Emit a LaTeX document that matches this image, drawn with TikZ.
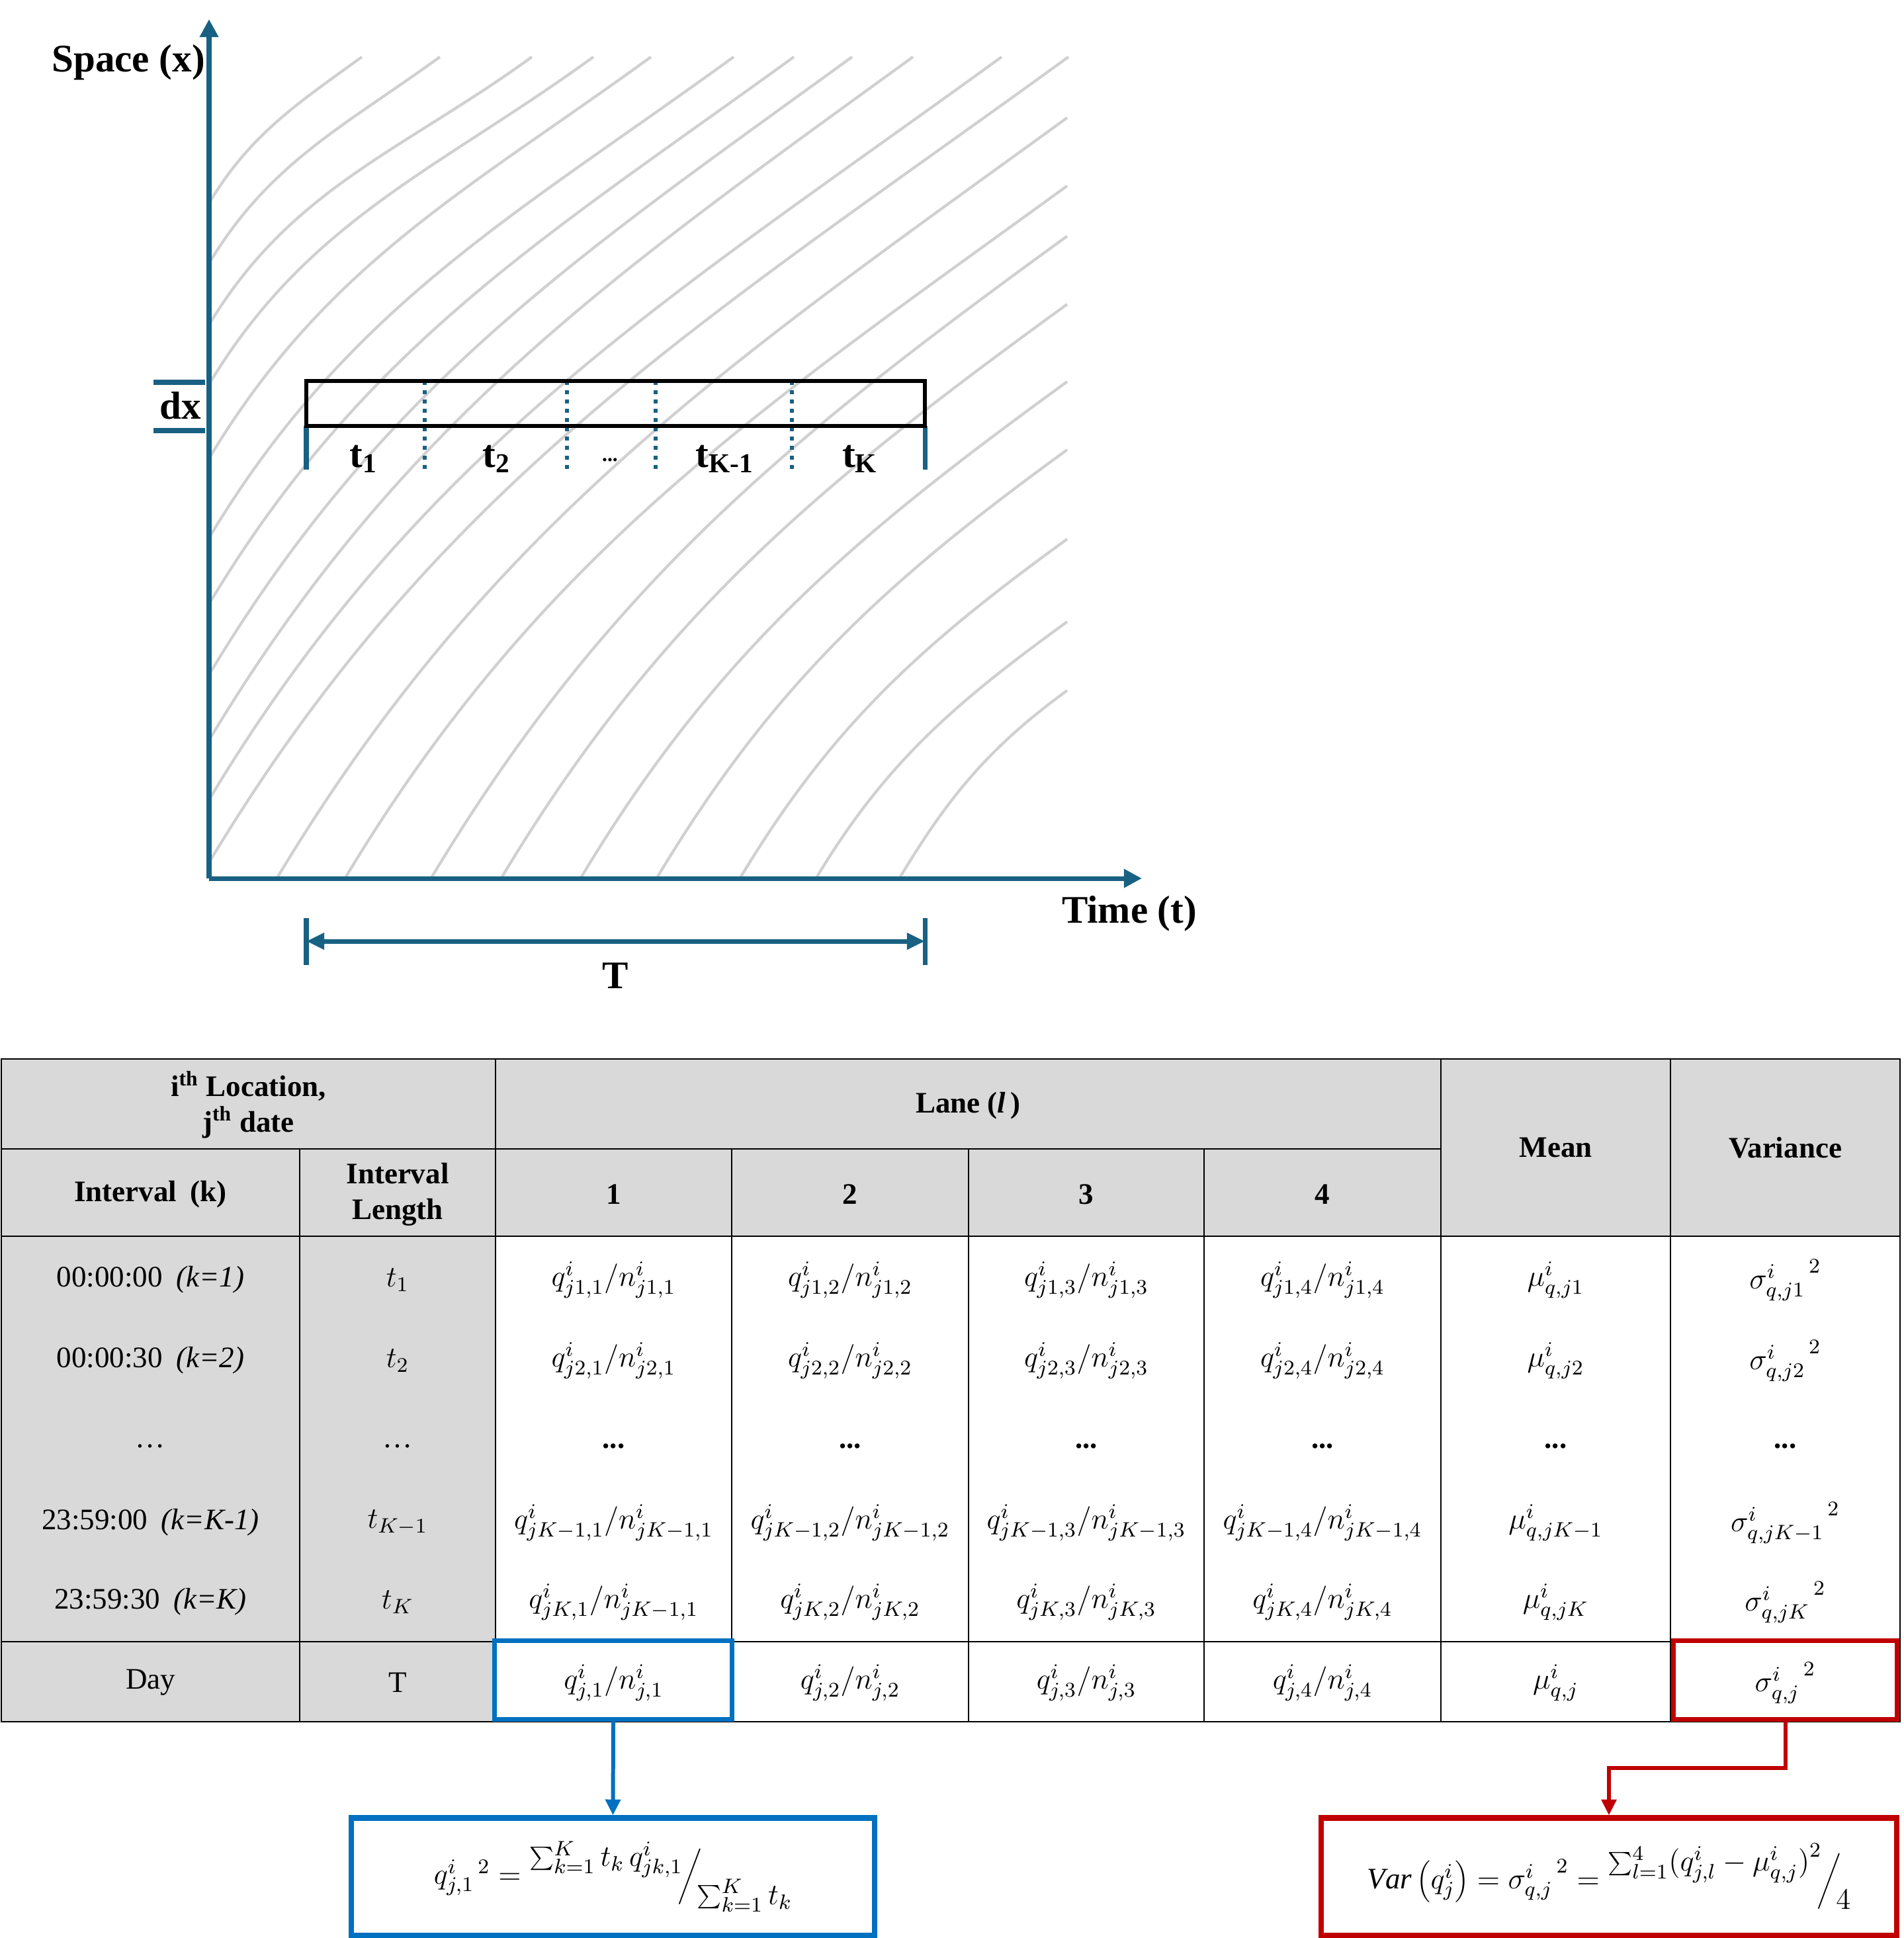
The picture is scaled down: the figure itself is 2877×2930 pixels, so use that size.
\RequirePackage{fix-cm}
\documentclass[tikz,border=0pt]{standalone}
\usepackage{fontspec}
\setmainfont{Liberation Serif}
\usetikzlibrary{arrows.meta}
\definecolor{axisblue}{RGB}{25,97,131}
\definecolor{trajgray}{RGB}{208,208,208}
\definecolor{hdrgray}{RGB}{217,217,217}
\definecolor{selblue}{RGB}{0,112,192}
\definecolor{selred}{RGB}{192,0,0}
\newcommand\tabfont{\fontsize{12.8}{15.3}\selectfont}
\newcommand\figfont{\fontsize{16.8}{20}\selectfont\bfseries}
\tikzset{
  axisline/.style={draw=axisblue,line width=2pt},
  axistip/.style={-{Triangle[length=7.7pt,width=7.7pt]}},
  traj/.style={draw=trajgray,line width=1.2pt},
  divider/.style={draw=axisblue,line width=1.7pt,dash pattern=on 1.7pt off 2.3pt},
  figlabel/.style={font=\figfont,inner sep=0pt,anchor=base},
  cell/.style={font=\tabfont,inner sep=0pt,align=center},
  tline/.style={draw=black,line width=0.75pt},
  selbox/.style={draw,line width=2pt,inner sep=0pt},
  fbox/.style={draw,line width=2.3pt,inner sep=0pt,font=\tabfont},
  selarrow/.style={line width=1.7pt,-{Triangle[length=6.8pt,width=6.3pt]}}
}
\begin{document}
\begin{tikzpicture}[x=0.01cm,y=-0.01cm]
\useasboundingbox (0,0) rectangle (2877,2930);

% ---------- trajectories ----------
\begin{scope}
\clip (318,84) rectangle (1618,1326);
\foreach \sx/\sy/\ex/\ey in {
 316/307/547/86, 316/398/665/86, 316/491/804/86, 316/581/897/86,
 316/693/984/86, 316/813/1109/86, 316/913/1200/86, 316/1020/1288/86,
 316/1119/1380/86, 316/1209/1514/86, 316/1304/1615/86,
 419/1327/1613/178, 522/1327/1613/281, 652/1327/1613/357,
 758/1327/1613/460, 878/1327/1613/577, 993/1327/1613/680,
 1119/1327/1613/815, 1234/1327/1613/940, 1360/1327/1613/1044}{
  \pgfmathsetmacro\L{100*veclen((\ex-\sx)/100,(\ey-\sy)/100)}
  \pgfmathsetmacro\ax{\sx+0.38*\L*cos(59)}
  \pgfmathsetmacro\ay{\sy-0.38*\L*sin(59)}
  \pgfmathsetmacro\bx{\ex-0.38*\L*cos(36)}
  \pgfmathsetmacro\by{\ey+0.38*\L*sin(36)}
  \draw[traj] (\sx,\sy) .. controls (\ax,\ay) and (\bx,\by) .. (\ex,\ey);
}
\end{scope}

% ---------- axes ----------
\coordinate (O) at (316,1328);
\coordinate (Ytop) at (316,29);
\coordinate (Xend) at (1726,1328);
\draw[axisline,axistip] (O) -- (Ytop);
\draw[axisline,axistip] (O) -- (Xend);
\node[figlabel] (spacelbl) at (194,108) {Space (x)};
\node[figlabel] (timelbl) at (1707,1395) {Time (t)};

% ---------- dx ----------
\coordinate (dxa1) at (232,578); \coordinate (dxa2) at (310,578);
\coordinate (dxb1) at (232,651); \coordinate (dxb2) at (310,651);
\draw[axisline] (dxa1) -- (dxa2);
\draw[axisline] (dxb1) -- (dxb2);
\node[figlabel] (dxlbl) at (273,633) {dx};

% ---------- interval box ----------
\coordinate (bl) at (463,644); \coordinate (br) at (1398,644);
\coordinate (bl2) at (463,710); \coordinate (br2) at (1398,710);
\draw[axisline] (bl) -- (bl2);
\draw[axisline] (br) -- (br2);
\foreach \dxx in {642,857,991,1197}{
  \draw[divider] (\dxx,576) -- (\dxx,710);
}
\draw[black,line width=1.75pt] (463,576) rectangle (1398,644);
\node[figlabel] (t1) at (550,706) {t\textsubscript{1}};
\node[figlabel] (t2) at (751,706) {t\textsubscript{2}};
\node[font=\fontsize{9}{10}\selectfont\bfseries,inner sep=0pt,anchor=base] (tdots) at (922,697) {...};
\node[figlabel] (tk1) at (1096,706) {t\textsubscript{K-1}};
\node[figlabel] (tk) at (1300,706) {t\textsubscript{K}};

% ---------- T dimension ----------
\coordinate (Ta1) at (463,1388); \coordinate (Ta2) at (463,1459);
\coordinate (Tb1) at (1398,1388); \coordinate (Tb2) at (1398,1459);
\coordinate (Tl) at (463,1423); \coordinate (Tr) at (1398,1423);
\draw[axisline] (Ta1) -- (Ta2);
\draw[axisline] (Tb1) -- (Tb2);
\draw[axisline,{Triangle[length=7.7pt,width=6.8pt]}-{Triangle[length=7.7pt,width=6.8pt]}] (Tl) -- (Tr);
\node[figlabel] (Tlbl) at (930,1494) {T};

% ---------- table ----------
\fill[hdrgray] (2,1601) rectangle (2872,1869);
\fill[hdrgray] (2,1869) rectangle (749,2603);
\draw[tline] (2,1601) rectangle (2872,2603);
\draw[tline] (2,1737) -- (2178,1737);
\draw[tline] (2,1869) -- (2872,1869);
\draw[tline] (2,2482) -- (2872,2482);
\draw[tline] (453,1737) -- (453,2603);
\draw[tline] (749,1601) -- (749,2603);
\foreach \vx in {1106,1464,1820}{\draw[tline] (\vx,1737) -- (\vx,2603);}
\draw[tline] (2178,1601) -- (2178,2603);
\draw[tline] (2525,1601) -- (2525,2603);

% header
\node[cell] (hloc) at (375.5,1670) {\textbf{i\textsuperscript{th} Location,}\\\textbf{j\textsuperscript{th} date}};
\node[cell] (hlane) at (1463.5,1672) {\textbf{Lane (\textit{l}\,)}};
\node[cell] (hmean) at (2351.5,1735) {\textbf{Mean}};
\node[cell] (hvar) at (2698.5,1735) {\textbf{Variance}};
\node[cell] (hint) at (227.5,1806) {\textbf{Interval\hspace{0.45em}(k)}};
\node[cell] (hlen) at (601,1806) {\textbf{Interval}\\\textbf{Length}};
\node[cell] (hl1) at (927.5,1806) {\textbf{1}};
\node[cell] (hl2) at (1285,1806) {\textbf{2}};
\node[cell] (hl3) at (1642,1806) {\textbf{3}};
\node[cell] (hl4) at (1999,1806) {\textbf{4}};

% first columns
\node[cell] (k1) at (227.5,1935) {00:00:00\hspace{0.45em}\textit{(k=1)}};
\node[cell] (k2) at (227.5,2057) {00:00:30\hspace{0.45em}\textit{(k=2)}};
\node[cell] (k3) at (227.5,2186) {…};
\node[cell] (k4) at (227.5,2302) {23:59:00\hspace{0.45em}\textit{(k=K-1)}};
\node[cell] (k5) at (227.5,2422) {23:59:30\hspace{0.45em}\textit{(k=K)}};
\node[cell] (k6) at (227.5,2544) {Day};
\node[cell] (len1) at (601,1935) {$t_{1}$};
\node[cell] (len2) at (601,2057) {$t_{2}$};
\node[cell] (len3) at (601,2186) {…};
\node[cell] (len4) at (601,2302) {$t_{K-1}$};
\node[cell] (len5) at (601,2422) {$t_{K}$};
\node[cell] (len6) at (601,2544) {T};

% lanes
\foreach \l/\x in {1/927.5,2/1285,3/1642,4/1999}{
  \node[cell] (a\l) at (\x,1935) {$q^{i}_{j1,\l}/n^{i}_{j1,\l}$};
  \node[cell] (b\l) at (\x,2057) {$q^{i}_{j2,\l}/n^{i}_{j2,\l}$};
  \node[cell] (c\l) at (\x,2186) {\textbf{...}};
  \node[cell] (d\l) at (\x,2302) {$q^{i}_{jK-1,\l}/n^{i}_{jK-1,\l}$};
  \node[cell] (g\l) at (\x,2544) {$q^{i}_{j,\l}/n^{i}_{j,\l}$};
}
\node[cell] (e1) at (927.5,2422) {$q^{i}_{jK,1}/n^{i}_{jK-1,1}$};
\node[cell] (e2) at (1285,2422) {$q^{i}_{jK,2}/n^{i}_{jK,2}$};
\node[cell] (e3) at (1642,2422) {$q^{i}_{jK,3}/n^{i}_{jK,3}$};
\node[cell] (e4) at (1999,2422) {$q^{i}_{jK,4}/n^{i}_{jK,4}$};

% mean
\node[cell] (m1) at (2351.5,1935) {$\mu^{i}_{q,j1}$};
\node[cell] (m2) at (2351.5,2057) {$\mu^{i}_{q,j2}$};
\node[cell] (m3) at (2351.5,2186) {\textbf{...}};
\node[cell] (m4) at (2351.5,2302) {$\mu^{i}_{q,jK-1}$};
\node[cell] (m5) at (2351.5,2422) {$\mu^{i}_{q,jK}$};
\node[cell] (m6) at (2351.5,2544) {$\mu^{i}_{q,j}$};
% variance
\node[cell] (v1) at (2698.5,1935) {${\sigma^{i}_{q,j1}}^{\,2}$};
\node[cell] (v2) at (2698.5,2057) {${\sigma^{i}_{q,j2}}^{\,2}$};
\node[cell] (v3) at (2698.5,2186) {\textbf{...}};
\node[cell] (v4) at (2698.5,2302) {${\sigma^{i}_{q,jK-1}}^{\,2}$};
\node[cell] (v5) at (2698.5,2422) {${\sigma^{i}_{q,jK}}^{\,2}$};
\node[cell] (v6) at (2698.5,2544) {${\sigma^{i}_{q,j}}^{\,2}$};

% ---------- highlights and formulas ----------
\node[selbox,draw=selblue,minimum width=3.59cm,minimum height=1.19cm] (sel1) at (927,2540) {};
\node[selbox,draw=selred,minimum width=3.38cm,minimum height=1.19cm] (sel2) at (2698.5,2540) {};

\node[fbox,draw=selblue,minimum width=7.91cm,minimum height=1.77cm] (f1) at (926.5,2837)
 {$q^{i}_{j,1}{}^{\,2} = \raisebox{1.3ex}{$\sum_{k=1}^{K} t_k\, q^{i}_{jk,1}$}\!\bigg/\!\raisebox{-1.5ex}{$\sum_{k=1}^{K} t_k$}$};
\node[fbox,draw=selred,minimum width=8.70cm,minimum height=1.77cm] (f2) at (2432,2837)
 {$\mathit{Var}\left(q^{i}_{j}\right) = {\sigma^{i}_{q,j}}^{\,2} = \raisebox{1.3ex}{$\sum_{l=1}^{4}\bigl(q^{i}_{j,l}-\mu^{i}_{q,j}\bigr)^{2}$}\!\bigg/\!\raisebox{-1.5ex}{$4$}$};

\draw[selarrow,draw=selblue] (sel1.south) -- (f1.north);
\draw[selarrow,draw=selred] (sel2.south) -- ++(0,70) -| (f2.north);
\end{tikzpicture}
\end{document}
